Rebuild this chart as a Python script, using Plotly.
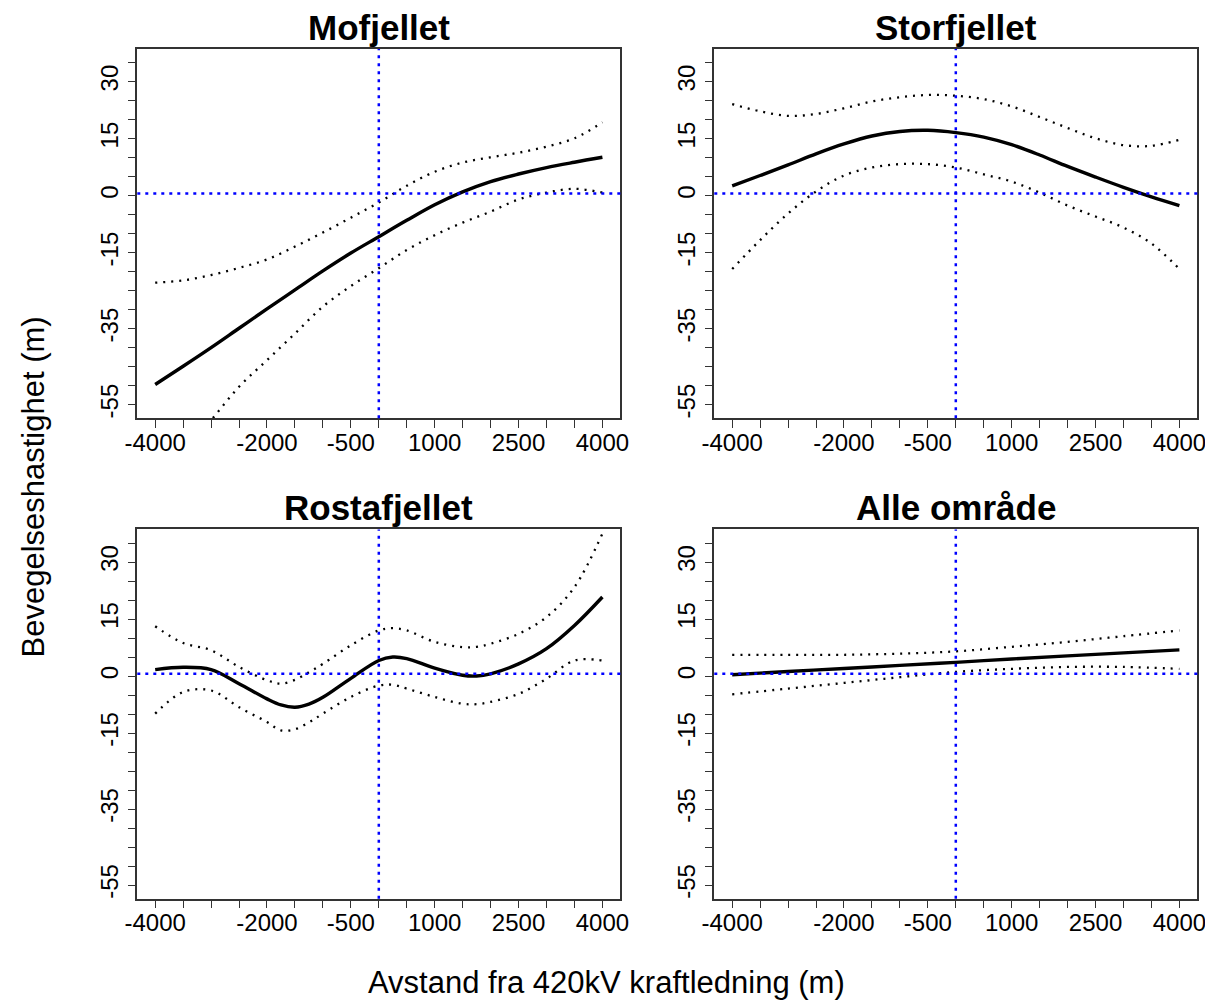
import plotly.graph_objects as go

# ---------------- data ----------------
x_grid = [-4000, -3500, -3000, -2500, -2000, -1500, -1000, -500, 0, 500, 1000, 1500, 2000, 2500, 3000, 3500, 4000]

# Mofjellet
mof_fit   = [-49.7, -44.9, -40.0, -34.9, -29.8, -24.8, -19.8, -15.1, -10.8, -6.5, -2.4, 1.0, 3.7, 5.7, 7.4, 8.8, 10.1]
mof_upper = [-22.9, -22.3, -20.9, -19.0, -16.8, -13.4, -9.7, -5.8, -1.8, 2.6, 6.3, 8.7, 10.1, 11.3, 12.9, 15.1, 19.3]
mof_lower = [-76.0, -67.5, -59.1, -50.3, -43.3, -36.3, -29.2, -23.8, -19.1, -14.3, -10.4, -7.1, -4.2, -1.0, 0.8, 1.8, 0.8]

# Storfjellet
sto_fit   = [2.6, 5.3, 8.1, 11.0, 13.6, 15.7, 16.9, 17.2, 16.6, 15.4, 13.4, 10.7, 7.7, 4.9, 2.2, -0.3, -2.6]
sto_upper = [24.1, 22.2, 21.0, 21.5, 23.0, 24.8, 25.9, 26.5, 26.3, 25.4, 23.5, 20.7, 17.8, 15.1, 13.3, 13.1, 14.7]
sto_lower = [-19.3, -11.7, -4.7, 1.1, 5.3, 7.4, 8.3, 8.3, 7.4, 5.6, 3.7, 0.8, -2.6, -5.5, -8.4, -12.6, -19.3]

# Rostafjellet
x_rosta = [-4000, -3500, -3000, -2500, -2000, -1750, -1500, -1250, -1000, -500, 0, 250, 500, 1000, 1500, 1750, 2000, 2500, 3000, 3500, 4000]
ros_fit   = [1.7, 2.3, 1.7, -2.0, -6.0, -7.6, -8.2, -7.4, -5.6, -0.6, 4.1, 5.0, 4.6, 2.1, 0.2, 0.0, 0.6, 3.2, 7.2, 13.3, 20.8]
ros_upper = [13.1, 8.7, 6.8, 2.4, -1.1, -2.0, -1.0, 1.0, 3.2, 8.1, 12.0, 12.6, 12.0, 9.0, 7.6, 7.7, 8.5, 11.1, 15.5, 23.4, 37.5]
ros_lower = [-9.9, -4.2, -3.8, -8.2, -12.1, -14.3, -14.0, -12.2, -9.9, -5.5, -2.5, -2.3, -3.3, -5.5, -7.3, -7.4, -6.8, -4.7, -0.7, 4.1, 4.1]

# Alle område
x_alle = [-4000, -3000, -2000, -1000, 0, 1000, 2000, 3000, 4000]
all_fit   = [0.35, 1.2, 2.0, 2.8, 3.6, 4.5, 5.3, 6.1, 6.9]
all_upper = [5.6, 5.6, 5.6, 5.9, 6.5, 7.7, 9.0, 10.5, 12.0]
all_lower = [-4.8, -3.3, -1.8, -0.3, 1.1, 1.9, 2.4, 2.4, 1.9]

titles = ["Mofjellet", "Storfjellet", "Rostafjellet", "Alle område"]

x_tickvals = list(range(-4000, 4001, 500))
x_labels = {-4000: "-4000", -2000: "-2000", -500: "-500", 1000: "1000", 2500: "2500", 4000: "4000"}
y_tickvals = list(range(-55, 36, 5))
y_labels = {30: "30", 15: "15", 0: "0", -15: "-15", -35: "-35", -55: "-55"}

x_range = [-4320, 4320]
y_range = [-58.6, 38.6]
ref_x = 0
ref_y = 0.6

x_title = "Avstand fra 420kV kraftledning (m)"
y_title = "Bevegelseshastighet (m)"

# ---------------- figure ----------------
OFF = 8                       # page body margin in the browser
FW, FH = 1213 - OFF, 1002 - OFF
FONT = "Liberation Sans, Arial, sans-serif"


def px(X):
    return (X - OFF) / FW


def py(Y):
    return 1 - (Y - OFF) / FH


panels = [
    (x_grid, mof_fit, mof_upper, mof_lower),
    (x_grid, sto_fit, sto_upper, sto_lower),
    (x_rosta, ros_fit, ros_upper, ros_lower),
    (x_alle, all_fit, all_upper, all_lower),
]

xdoms = [[px(137.3), px(620.3)], [px(714.3), px(1197.3)]]
ydoms = [[py(418.3), py(49.0)], [py(898.7), py(529.4)]]

fig = go.Figure()
layout = dict(
    width=FW, height=FH,
    margin=dict(l=0, r=0, t=0, b=0, pad=0),
    paper_bgcolor="white", plot_bgcolor="white",
    showlegend=False,
    font=dict(family=FONT, color="black"),
)

annotations = []
shapes = []
for i, (xs, fit, up, lo) in enumerate(panels):
    r, c = divmod(i, 2)
    sfx = "" if i == 0 else str(i + 1)
    xa, ya = "x" + sfx, "y" + sfx
    for ys, width, dash in [(up, 2.3, "2px,6px"), (lo, 2.3, "2px,6px"), (fit, 3.4, "solid")]:
        fig.add_trace(go.Scatter(
            x=xs, y=ys, mode="lines", xaxis=xa, yaxis=ya,
            line=dict(color="black", width=width, dash=dash, shape="spline", smoothing=1.0),
            hoverinfo="skip"))
    layout["xaxis" + sfx] = dict(
        domain=xdoms[c], anchor=ya, range=x_range, automargin=False,
        tickmode="array", tickvals=x_tickvals,
        ticktext=[x_labels.get(v, "") for v in x_tickvals],
        ticks="outside", ticklen=8, tickwidth=1.3, tickcolor="#333",
        showline=True, linecolor="#333", linewidth=1.5, mirror=True,
        showgrid=False, zeroline=False,
        tickfont=dict(size=24, family=FONT, color="black"),
        ticklabelstandoff=-6,
    )
    layout["yaxis" + sfx] = dict(
        domain=ydoms[r], anchor=xa, range=y_range, automargin=False,
        tickmode="array", tickvals=y_tickvals,
        ticktext=[y_labels.get(v, "") for v in y_tickvals],
        ticks="outside", ticklen=8, tickwidth=1.3, tickcolor="#333",
        showline=True, linecolor="#333", linewidth=1.5, mirror=True,
        showgrid=False, zeroline=False, tickangle=-90,
        tickfont=dict(size=24, family=FONT, color="black"),
        ticklabelstandoff=0,
    )
    # reference lines
    shapes.append(dict(type="line", xref=xa, yref=ya + " domain", x0=ref_x, x1=ref_x, y0=0, y1=1,
                       line=dict(color="#0000FF", width=2.5, dash="3px,5px")))
    shapes.append(dict(type="line", xref=xa + " domain", yref=ya, x0=0, x1=1, y0=ref_y, y1=ref_y,
                       line=dict(color="#0000FF", width=2.5, dash="3px,5px")))
    annotations.append(dict(
        text="<b>%s</b>" % titles[i], xref="paper", yref="paper",
        x=sum(xdoms[c]) / 2, y=ydoms[r][1], xanchor="center", yanchor="bottom",
        showarrow=False, font=dict(size=35, family=FONT, color="black")))

annotations.append(dict(text=x_title, xref="paper", yref="paper", x=px(606.5), y=py(982),
                        xanchor="center", yanchor="middle", showarrow=False,
                        font=dict(size=31, family=FONT, color="black")))
annotations.append(dict(text=y_title, xref="paper", yref="paper", x=px(33), y=py(487.5),
                        xanchor="center", yanchor="middle", textangle=-90, showarrow=False,
                        font=dict(size=31, family=FONT, color="black")))

layout["annotations"] = annotations
layout["shapes"] = shapes
fig.update_layout(**layout)
fig.write_html("out.html")
